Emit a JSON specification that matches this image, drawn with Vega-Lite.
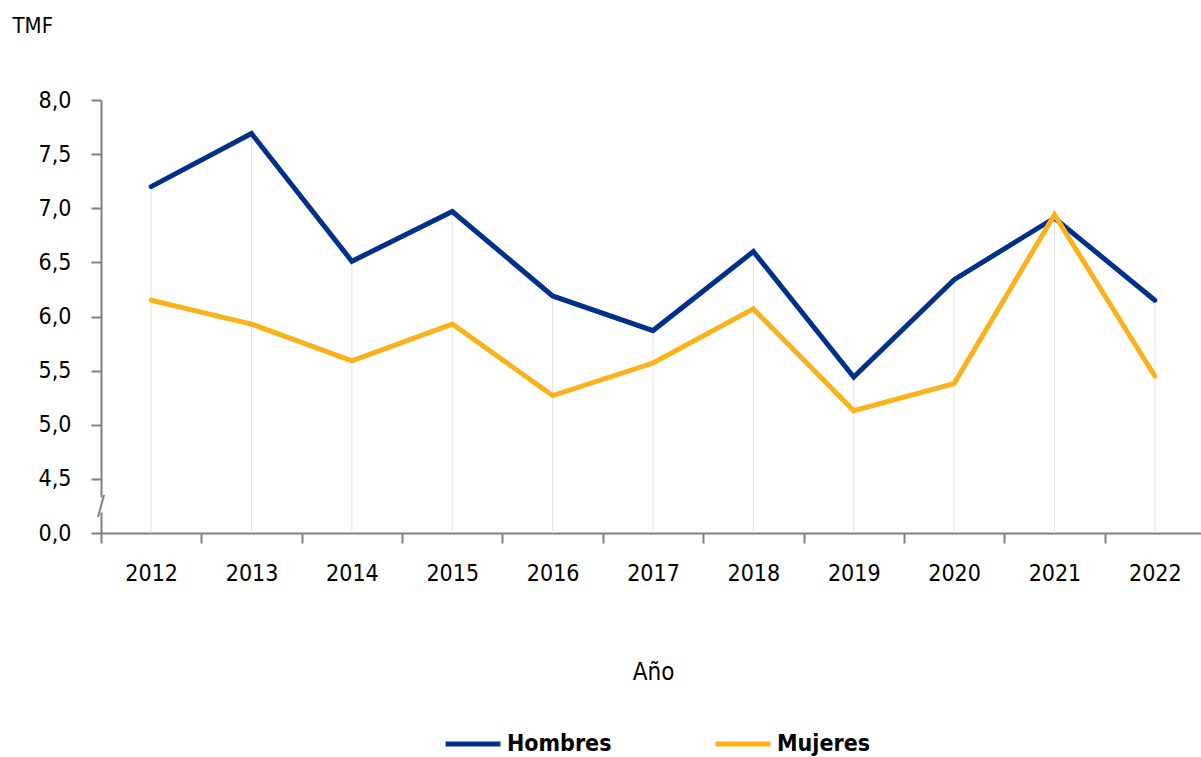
{
  "$schema": "https://vega.github.io/schema/vega-lite/v6.json",
  "autosize": {"type": "none"},
  "padding": {"left": 101, "top": 100, "right": 0, "bottom": 224},
  "width": 1100,
  "height": 433,
  "background": "white",
  "config": {
    "font": "DejaVu Sans Condensed, sans-serif",
    "view": {"stroke": null},
    "axis": {"grid": false, "zindex": 0, "domainColor": "#808080", "tickColor": "#808080", "domainWidth": 2, "tickWidth": 2, "tickSize": 10, "labelColor": "#000", "titleColor": "#000", "labelFont": "DejaVu Sans Condensed, sans-serif", "titleFont": "DejaVu Sans Condensed, sans-serif"}
  },
  "data": {"values": [
    {"year": "2012", "serie": "Hombres", "value": 7.20},
    {"year": "2013", "serie": "Hombres", "value": 7.69},
    {"year": "2014", "serie": "Hombres", "value": 6.51},
    {"year": "2015", "serie": "Hombres", "value": 6.97},
    {"year": "2016", "serie": "Hombres", "value": 6.19},
    {"year": "2017", "serie": "Hombres", "value": 5.87},
    {"year": "2018", "serie": "Hombres", "value": 6.60},
    {"year": "2019", "serie": "Hombres", "value": 5.44},
    {"year": "2020", "serie": "Hombres", "value": 6.34},
    {"year": "2021", "serie": "Hombres", "value": 6.91},
    {"year": "2022", "serie": "Hombres", "value": 6.15},
    {"year": "2012", "serie": "Mujeres", "value": 6.15},
    {"year": "2013", "serie": "Mujeres", "value": 5.93},
    {"year": "2014", "serie": "Mujeres", "value": 5.59},
    {"year": "2015", "serie": "Mujeres", "value": 5.93},
    {"year": "2016", "serie": "Mujeres", "value": 5.27},
    {"year": "2017", "serie": "Mujeres", "value": 5.57},
    {"year": "2018", "serie": "Mujeres", "value": 6.07},
    {"year": "2019", "serie": "Mujeres", "value": 5.13},
    {"year": "2020", "serie": "Mujeres", "value": 5.38},
    {"year": "2021", "serie": "Mujeres", "value": 6.94},
    {"year": "2022", "serie": "Mujeres", "value": 5.45}
  ]},
  "encoding": {
    "x": {
      "field": "year", "type": "ordinal",
      "scale": {"type": "band", "paddingInner": 0, "paddingOuter": 0, "range": [0, 1104]},
      "axis": {"title": "Año", "labelAngle": 0, "labelFontSize": 23, "labelPadding": 19, "tickBand": "extent", "titleFontSize": 24, "titleFontWeight": "normal", "titleY": 139, "titleBaseline": "middle", "titleX": 552}
    }
  },
  "layer": [
    {
      "mark": {"type": "rule", "color": "#e3e3e3", "strokeWidth": 1},
      "encoding": {
        "y": {"aggregate": "max", "field": "value", "type": "quantitative", "scale": {"domain": [4, 8], "nice": false, "zero": false}},
        "y2": {"datum": 4}
      }
    },
    {
      "transform": [{"filter": "datum.year == '2012' && datum.serie == 'Hombres'"}],
      "mark": {"type": "rule", "color": "white", "strokeWidth": 5},
      "encoding": {
        "x": {"field": "year", "type": "ordinal", "bandPosition": 0},
        "y": {"datum": 4.19},
        "y2": {"datum": 4.33}
      }
    },
    {
      "transform": [{"filter": "datum.year == '2012' && datum.serie == 'Hombres'"}],
      "mark": {"type": "text", "text": "/", "color": "#808080", "fontSize": 26, "align": "center", "baseline": "middle"},
      "encoding": {
        "x": {"field": "year", "type": "ordinal", "bandPosition": 0},
        "y": {"datum": 4.24}
      }
    },
    {
      "mark": {"type": "line", "strokeWidth": 5, "strokeCap": "round", "strokeJoin": "miter"},
      "encoding": {
        "y": {
          "field": "value", "type": "quantitative",
          "scale": {"domain": [4, 8], "nice": false, "zero": false},
          "axis": {
            "values": [4, 4.5, 5, 5.5, 6, 6.5, 7, 7.5, 8],
            "labelExpr": "datum.value == 4 ? '0,0' : replace(format(datum.value, '.1f'), '.', ',')",
            "labelFontSize": 23, "labelPadding": 20,
            "title": "TMF", "titleAngle": 0, "titleX": -89, "titleY": -75, "titleAlign": "left", "titleBaseline": "middle", "titleFontSize": 22, "titleFontWeight": "normal"
          }
        },
        "color": {
          "field": "serie", "type": "nominal",
          "scale": {"domain": ["Hombres", "Mujeres"], "range": ["#00308A", "#FBB21A"]},
          "legend": {
            "title": null, "orient": "none", "legendX": 342, "legendY": 614, "direction": "horizontal",
            "symbolType": "stroke", "symbolSize": 3025, "symbolStrokeWidth": 5,
            "labelFontSize": 23, "labelFontWeight": "bold", "labelColor": "#000", "labelOffset": 4,
            "columnPadding": 93
          }
        }
      }
    }
  ]
}
